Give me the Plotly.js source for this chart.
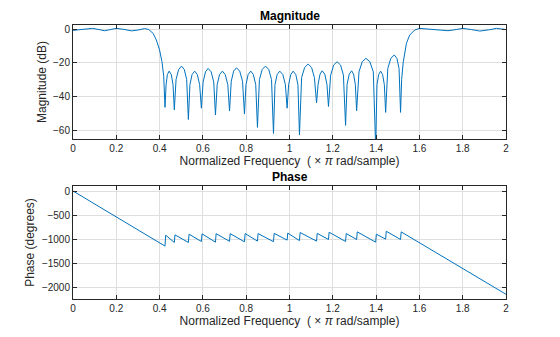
<!DOCTYPE html>
<html>
<head>
<meta charset="utf-8">
<script src="https://cdn.plot.ly/plotly-3.0.1.min.js"></script>
<style>html,body{margin:0;padding:0;background:#fff}#chart{width:560px;height:337px}</style>
</head>
<body>
<div id="chart"></div>
<script>
// Magnitude response (dB)
const magFreq = [
  0, 0.03, 0.06, 0.09, 0.12, 0.146, 0.17, 0.2, 0.235, 0.27, 0.30, 0.331, 0.35, 0.37, 0.385, 0.40, 0.411, 0.419,
  0.425, 0.430, 0.436, 0.444, 0.454, 0.462,
  0.468, 0.476, 0.488, 0.501, 0.514, 0.525,
  0.533, 0.540, 0.550, 0.562, 0.574, 0.585,
  0.593, 0.601, 0.612, 0.624, 0.638, 0.650,
  0.658, 0.666, 0.677, 0.690, 0.703, 0.715,
  0.723, 0.731, 0.742, 0.755, 0.770, 0.783,
  0.792, 0.799, 0.809, 0.821, 0.833, 0.844,
  0.852, 0.861, 0.874, 0.889, 0.904, 0.917,
  0.926, 0.933, 0.943, 0.955, 0.969, 0.981,
  0.989, 0.996, 1.006, 1.017, 1.029, 1.039,
  1.046, 1.056, 1.070, 1.086, 1.102, 1.115,
  1.125, 1.132, 1.141, 1.151, 1.163, 1.173,
  1.180, 1.190, 1.204, 1.220, 1.236, 1.249,
  1.259, 1.266, 1.276, 1.287, 1.296, 1.304,
  1.310, 1.321, 1.336, 1.353, 1.371, 1.387,
  1.398, 1.404, 1.412, 1.421, 1.430, 1.438,
  1.444, 1.454, 1.468, 1.484, 1.496, 1.506,
  1.513, 1.518, 1.525, 1.540, 1.555, 1.578, 1.601, 1.635, 1.68, 1.732, 1.77, 1.801, 1.84, 1.879, 1.92, 1.956, 2
];
const magDb = [
  -0.8, -0.3, 0.2, 0.4, -0.3, -1.0, -0.4, 0.4, -0.2, -1.1, -0.6, 0.3, -0.3, -2.6, -6.5, -12.5, -19.4, -28,
  -46.5, -33, -27, -25, -27, -33,
  -48, -30, -24, -22, -24, -30,
  -53.7, -33, -27, -25, -27, -33,
  -47, -31.4, -25.4, -23.4, -25.4, -31.4,
  -51, -33, -27, -25, -27, -33,
  -48.7, -31, -25, -23, -25, -31,
  -50.5, -33, -27, -25, -27, -33,
  -58.4, -30, -24, -22, -24, -30,
  -62, -33, -27, -25, -27, -33,
  -47, -33, -27, -25, -27, -33,
  -62.8, -28.8, -22.8, -20.8, -22.8, -28.8,
  -43.8, -32.8, -26.8, -24.8, -26.8, -32.8,
  -46, -27.4, -21.4, -19.4, -21.4, -27.4,
  -57.2, -32.8, -26.8, -24.8, -26.8, -32.8,
  -48.5, -25.4, -19.4, -17.4, -19.4, -25.4,
  -70, -33, -27, -25, -27, -33,
  -49.5, -23.4, -17.4, -15.4, -17.4, -23.4,
  -49.5, -30, -20, -8.5, -3.6, -0.6, 0.4, 0, -0.6, -1.0, -0.3, 0.4, -0.3, -1.2, -0.5, 0.4, -0.3
];
// Phase response (degrees)
const phaseFreq = [0, 0.425, 0.428, 0.468, 0.471, 0.533, 0.536, 0.593, 0.596, 0.658, 0.661, 0.723, 0.726,
  0.792, 0.795, 0.852, 0.855, 0.926, 0.929, 0.989, 0.992, 1.046, 1.049, 1.125, 1.128, 1.180, 1.183,
  1.259, 1.262, 1.310, 1.313, 1.398, 1.401, 1.444, 1.447, 1.513, 1.516, 2];
const phaseDeg = [0, -1144, -918, -1068, -911, -1068, -897, -1048, -890, -1062, -886, -1045, -886,
  -1055, -884, -1040, -884, -1052, -880, -1020, -875, -1030, -863, -1040, -880, -1007, -856,
  -1048, -884, -1007, -849, -1062, -897, -1000, -836, -1007, -849, -2145];

const xTicks = [0, 0.2, 0.4, 0.6, 0.8, 1, 1.2, 1.4, 1.6, 1.8, 2];
const xTickText = ['0', '0.2', '0.4', '0.6', '0.8', '1', '1.2', '1.4', '1.6', '1.8', '2'];
const magTicks = [-60, -40, -20, 0];
const phaseTicks = [-2000, -1500, -1000, -500, 0];

const FONT = '"Liberation Sans", Arial, Helvetica, sans-serif';
const AX = '#262626';
const GRID = '#dfdfdf';
const LINE = '#0072BD';
const NB = '\u00a0';
const XTITLE = 'Normalized Frequency' + NB + NB + '(' + NB + '\u00d7' + NB + '<i>\u03c0</i>' + NB + 'rad/sample)';

function xaxisCfg(anchor, domain) {
  return {
    anchor: anchor, domain: domain, range: [0, 2],
    tickvals: xTicks, ticktext: xTickText,
    ticks: 'inside', ticklen: 4, tickcolor: AX, tickwidth: 1,
    showline: true, linecolor: AX, linewidth: 1, mirror: 'ticks',
    showgrid: true, gridcolor: GRID, gridwidth: 1, zeroline: false,
    tickfont: {family: FONT, size: 10, color: AX},
    title: {text: XTITLE, font: {family: FONT, size: 12, color: AX}, standoff: 3},
    automargin: false
  };
}
function yaxisCfg(anchor, domain, range, ticks, title, standoff) {
  return {
    anchor: anchor, domain: domain, range: range,
    tickvals: ticks,
    ticks: 'inside', ticklen: 4, tickcolor: AX, tickwidth: 1,
    showline: true, linecolor: AX, linewidth: 1, mirror: 'ticks',
    showgrid: true, gridcolor: GRID, gridwidth: 1, zeroline: false,
    tickfont: {family: FONT, size: 10, color: AX},
    title: {text: title, font: {family: FONT, size: 12, color: AX}, standoff: standoff},
    automargin: false
  };
}

const traces = [
  {x: magFreq, y: magDb, type: 'scatter', mode: 'lines', line: {color: LINE, width: 1}, xaxis: 'x', yaxis: 'y', hoverinfo: 'skip'},
  {x: phaseFreq, y: phaseDeg, type: 'scatter', mode: 'lines', line: {color: LINE, width: 1}, xaxis: 'x2', yaxis: 'y2', hoverinfo: 'skip'}
];

const xd = [73 / 560, 506 / 560];
const layout = {
  width: 560, height: 337,
  margin: {l: 0, r: 0, t: 0, b: 0},
  paper_bgcolor: '#ffffff', plot_bgcolor: '#ffffff',
  showlegend: false,
  xaxis: xaxisCfg('y', xd),
  yaxis: yaxisCfg('x', [198 / 337, 312 / 337], [-65.3, 2.4], magTicks, 'Magnitude (dB)', 3),
  xaxis2: xaxisCfg('y2', xd),
  yaxis2: yaxisCfg('x2', [38 / 337, 151 / 337], [-2243, 104], phaseTicks, 'Phase (degrees)', 4),
  annotations: [
    {text: '<b>Magnitude</b>', xref: 'paper', yref: 'paper', x: (73 + 506) / 2 / 560, y: (337 - 16) / 337, xanchor: 'center', yanchor: 'middle', showarrow: false, font: {family: FONT, size: 12, color: '#000'}},
    {text: '<b>Phase</b>', xref: 'paper', yref: 'paper', x: (73 + 506) / 2 / 560, y: (337 - 177) / 337, xanchor: 'center', yanchor: 'middle', showarrow: false, font: {family: FONT, size: 12, color: '#000'}}
  ]
};

Plotly.newPlot('chart', traces, layout, {staticPlot: true, displayModeBar: false});
</script>
</body>
</html>
